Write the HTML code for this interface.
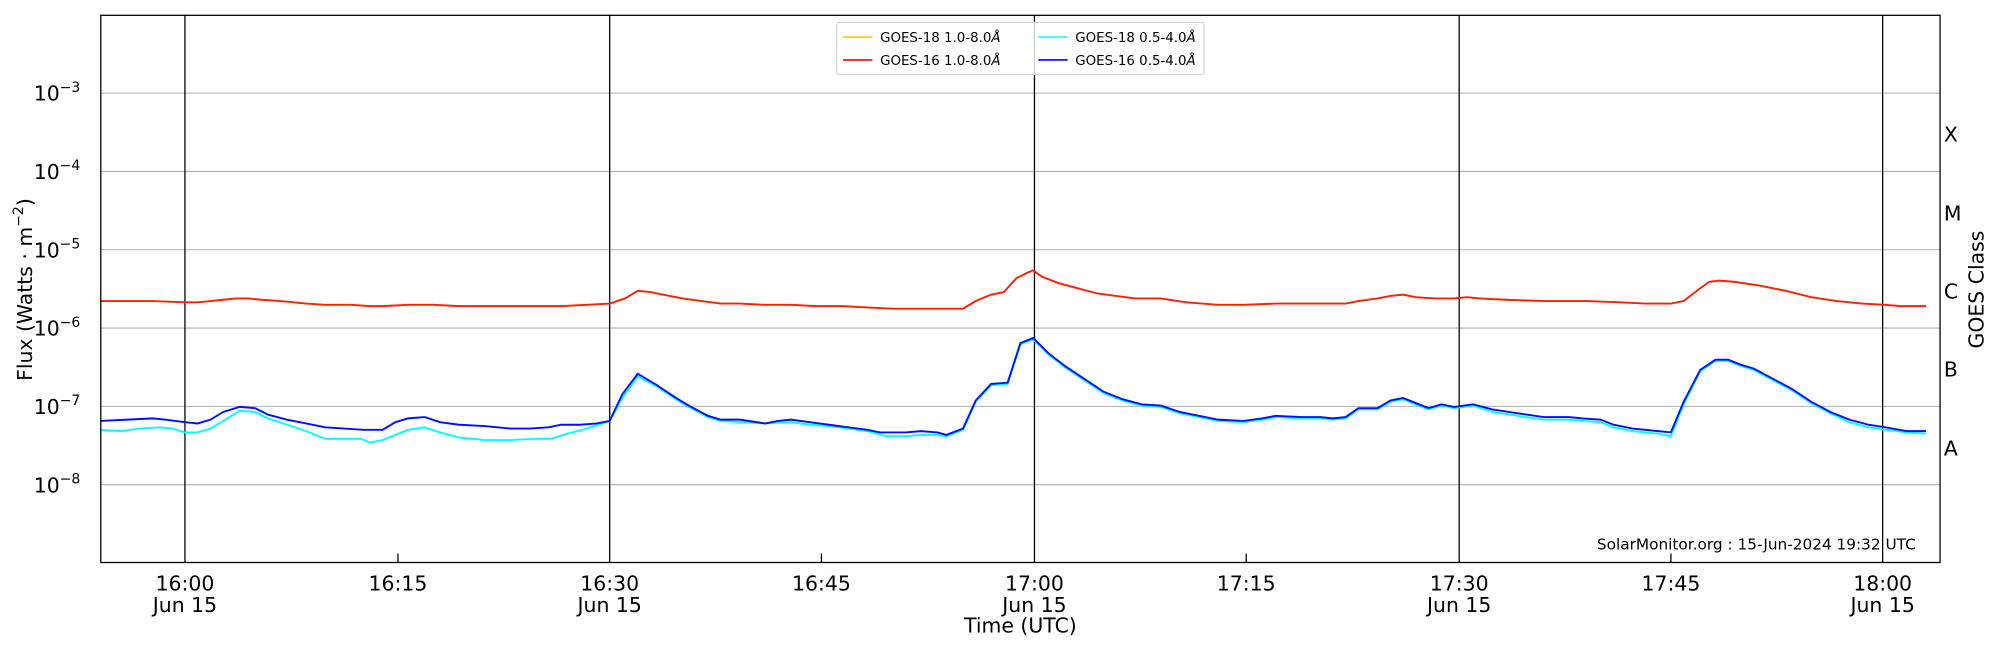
<!DOCTYPE html>
<html><head><style>html,body{margin:0;padding:0;background:#fff}svg{display:block}</style></head><body>
<svg width="2000" height="650" viewBox="0 0 1568 509.6" xmlns="http://www.w3.org/2000/svg" font-family="'DejaVu Sans','Liberation Sans',sans-serif">
<rect width="1568" height="510" fill="#fff"/>
<g stroke="#b0b0b0" stroke-width="0.8">
<line x1="79" x2="1521" y1="73" y2="73"/><line x1="79" x2="1521" y1="134.4" y2="134.4"/><line x1="79" x2="1521" y1="195.8" y2="195.8"/><line x1="79" x2="1521" y1="257.2" y2="257.2"/><line x1="79" x2="1521" y1="318.6" y2="318.6"/><line x1="79" x2="1521" y1="380" y2="380"/>
</g>
<g stroke="#000" stroke-width="1">
<line x1="145" x2="145" y1="12" y2="441"/><line x1="478" x2="478" y1="12" y2="441"/><line x1="811" x2="811" y1="12" y2="441"/><line x1="1144" x2="1144" y1="12" y2="441"/><line x1="1476" x2="1476" y1="12" y2="441"/>
<line x1="312" x2="312" y1="441" y2="434"/><line x1="644" x2="644" y1="441" y2="434"/><line x1="977" x2="977" y1="441" y2="434"/><line x1="1310" x2="1310" y1="441" y2="434"/>
</g>
<g id="ticks" stroke="#000" stroke-width="0.8"></g>
<polyline fill="none" stroke="#ff2000" stroke-width="1.5" points="79,236 100,236 120,236 145,237 155,237 165,236 175,235 185,234 195,234 205,235 220,236 240,238 255,239 275,239 290,240 300,240 320,239 340,239 360,240 380,240 400,240 420,240 440,240 460,239 478,238 490,234 500,228 510,229 520,231 535,234 550,236 565,238 580,238 600,239 620,239 640,240 660,240 680,241 700,242 720,242 740,242 755,242 765,236 777,231 787,229 797,218 805,214 810,212 817,217 830,222 845,226 860,230 875,232 890,234 910,234 930,237 955,239 975,239 1000,238 1030,238 1055,238 1065,236 1080,234 1090,232 1100,231 1110,233 1125,234 1140,234 1150,233 1160,234 1180,235 1210,236 1245,236 1270,237 1290,238 1310,238 1320,236 1333,226 1340,221 1348,220 1360,221 1380,224 1400,228 1420,233 1440,236 1460,238 1478,239 1490,240 1510,240"/>
<polyline fill="none" stroke="#00ffff" stroke-width="1.5" points="79,337 95,338 110,336 125,335 135,336 145,339 155,339 165,336 175,330 188,322 200,323 210,328 225,333 240,338 255,344 270,344 283,344 290,347 300,345 310,341 320,337 333,335 345,339 360,343 380,345 400,345 420,344 432,344 445,340 460,336 478,330 488,312 500,295 515,303 530,313 540,319 555,327 565,330 580,331 600,332 620,331 635,333 650,334 665,336 680,338 695,342 710,342 722,341 735,341 742,342 755,337 765,315 777,302 790,301 800,270 810,266 822,278 835,288 850,298 865,308 880,314 895,318 910,319 925,324 940,327 955,330 975,331 990,329 1000,327 1020,328 1035,328 1045,329 1055,328 1065,321 1080,321 1090,315 1100,313 1110,317 1120,321 1130,318 1140,320 1155,318 1170,323 1190,326 1210,329 1230,329 1240,330 1255,331 1265,335 1280,338 1300,340 1310,342 1320,317 1333,291 1345,283 1355,283 1365,287 1375,290 1390,298 1405,306 1420,316 1435,324 1450,331 1465,335 1478,337 1495,339 1510,340"/>
<polyline fill="none" stroke="#0010ff" stroke-width="1.5" points="79,330 100,329 120,328 130,329 145,331 155,332 165,329 175,323 188,319 200,320 210,325 225,329 240,332 255,335 270,336 285,337 300,337 310,331 320,328 333,327 345,331 360,333 380,334 400,336 415,336 430,335 440,333 455,333 468,332 478,330 488,309 500,293 515,302 530,312 540,318 555,326 565,329 580,329 600,332 610,330 620,329 635,331 650,333 665,335 680,337 690,339 710,339 722,338 735,339 742,341 755,336 765,314 777,301 790,300 800,269 810,265 822,277 835,287 850,297 865,307 880,313 895,317 910,318 925,323 940,326 955,329 975,330 990,328 1000,326 1020,327 1035,327 1045,328 1055,327 1065,320 1080,320 1090,314 1100,312 1110,316 1120,320 1130,317 1140,319 1155,317 1170,321 1190,324 1210,327 1230,327 1240,328 1255,329 1265,333 1280,336 1300,338 1310,339 1320,315 1333,290 1345,282 1355,282 1365,286 1375,289 1390,297 1405,305 1420,315 1435,323 1450,329 1465,333 1478,335 1495,338 1510,338"/>
<rect x="79" y="12" width="1442" height="429" fill="none" stroke="#000" stroke-width="1"/>
<rect x="656" y="17.5" width="288" height="41" rx="2" fill="#fff" fill-opacity="0.8" stroke="#d0d0d0" stroke-width="0.8"/>
<g stroke-width="1.2"><line x1="661" x2="684" y1="29" y2="29" stroke="#ffc000"/><line x1="661" x2="684" y1="47" y2="47" stroke="#ff0000"/><line x1="814" x2="837" y1="29" y2="29" stroke="#00ffff"/><line x1="814" x2="837" y1="47" y2="47" stroke="#0000ff"/></g>
<g font-size="10.5" fill="#000"><text x="690" y="33">GOES-18 1.0-8.0<tspan font-style="italic">Å</tspan></text><text x="690" y="51">GOES-16 1.0-8.0<tspan font-style="italic">Å</tspan></text><text x="843" y="33">GOES-18 0.5-4.0<tspan font-style="italic">Å</tspan></text><text x="843" y="51">GOES-16 0.5-4.0<tspan font-style="italic">Å</tspan></text></g>
<g font-size="16" fill="#000">
<text x="63" y="79" text-anchor="end">10<tspan font-size="11" dy="-7">−3</tspan></text>
<text x="63" y="140.4" text-anchor="end">10<tspan font-size="11" dy="-7">−4</tspan></text>
<text x="63" y="201.8" text-anchor="end">10<tspan font-size="11" dy="-7">−5</tspan></text>
<text x="63" y="263.2" text-anchor="end">10<tspan font-size="11" dy="-7">−6</tspan></text>
<text x="63" y="324.6" text-anchor="end">10<tspan font-size="11" dy="-7">−7</tspan></text>
<text x="63" y="386" text-anchor="end">10<tspan font-size="11" dy="-7">−8</tspan></text>
<text x="1524" y="111">X</text><text x="1524" y="173">M</text><text x="1524" y="234">C</text><text x="1524" y="295">B</text><text x="1524" y="357">A</text>
<g text-anchor="middle"><text x="145" y="463">16:00</text><text x="145" y="480">Jun 15</text><text x="312" y="463">16:15</text><text x="478" y="463">16:30</text><text x="478" y="480">Jun 15</text><text x="644" y="463">16:45</text><text x="811" y="463">17:00</text><text x="811" y="480">Jun 15</text><text x="977" y="463">17:15</text><text x="1144" y="463">17:30</text><text x="1144" y="480">Jun 15</text><text x="1310" y="463">17:45</text><text x="1476" y="463">18:00</text><text x="1476" y="480">Jun 15</text>
<text x="800" y="496">Time (UTC)</text></g>
<text transform="translate(25,227) rotate(-90)" text-anchor="middle">Flux (Watts · m<tspan font-size="11" dy="-7">−2</tspan><tspan dy="7">)</tspan></text>
<text transform="translate(1555,227) rotate(-90)" text-anchor="middle">GOES Class</text>
</g>
<text x="1502" y="431" font-size="12" text-anchor="end">SolarMonitor.org : 15-Jun-2024 19:32 UTC</text>
<script>
var g=document.getElementById('ticks'),s='';
for(var d=-9;d<-2;d++){for(var m=1;m<10;m++){var y=441.4-(d+9+Math.log10(m))*61.4;var L=m==1?6:3.5;if(y<12||y>441)continue;
s+='<line x1="79" x2="'+(79+L)+'" y1="'+y+'" y2="'+y+'"/><line x1="1521" x2="'+(1521-L)+'" y1="'+y+'" y2="'+y+'"/>';}}
g.innerHTML=s;
</script>
</svg>
</body></html>
